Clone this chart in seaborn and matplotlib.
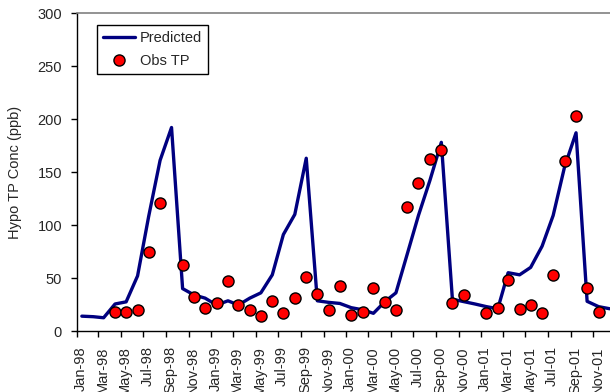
import matplotlib
matplotlib.use("Agg")
import matplotlib.pyplot as plt
import matplotlib.dates as mdates
import matplotlib.transforms as mtransforms
import seaborn as sns
import pandas as pd
from matplotlib.lines import Line2D

# Monthly model predictions, Jan-98 .. Dec-01 (ppb)
pred_start = "1998-01-01"
pred_tp = [
    14, 13.5, 12.5, 25.5, 27.5, 52, 108, 161, 192, 40, 34, 31,
    24.5, 28.5, 24.5, 31, 36, 53, 91, 110, 163, 28.5, 27, 26,
    22, 20, 16.7, 27.7, 36, 73, 109, 142, 178, 30, 27.7, 25.5,
    23, 21, 55, 53, 60, 80, 109, 155, 187, 28, 23, 21,
]

# Observed hypolimnetic TP samples
obs_months = [
    "1998-04", "1998-05", "1998-06", "1998-07", "1998-08", "1998-10", "1998-11", "1998-12",
    "1999-01", "1999-02", "1999-03", "1999-04", "1999-05", "1999-06", "1999-07", "1999-08",
    "1999-09", "1999-10", "1999-11", "1999-12",
    "2000-01", "2000-02", "2000-03", "2000-04", "2000-05", "2000-06", "2000-07", "2000-08",
    "2000-09", "2000-10", "2000-11",
    "2001-01", "2001-02", "2001-03", "2001-04", "2001-05", "2001-06", "2001-07", "2001-08",
    "2001-09", "2001-10", "2001-11",
]
obs_tp = [
    18, 18, 19.5, 74.5, 121, 62.5, 32.5, 21.5,
    26, 47, 25, 20, 14.5, 28.5, 17, 31,
    51, 35, 20, 42,
    15, 17.5, 41, 27.5, 19.5, 117, 140, 162,
    171, 26, 33.5,
    17, 21.5, 48, 20.5, 24.5, 17, 53, 160,
    203, 41, 17.5,
]

y_ticks = [0, 50, 100, 150, 200, 250, 300]
y_label = "Hypo TP Conc (ppb)"

# samples are plotted at mid-month
pred_df = pd.DataFrame({
    "date": pd.date_range(pred_start, periods=len(pred_tp), freq="MS") + pd.Timedelta(days=14),
    "tp": pred_tp,
})
obs_df = pd.DataFrame({
    "date": pd.to_datetime(obs_months) + pd.Timedelta(days=14),
    "tp": obs_tp,
})

sns.set_style("white")
plt.rcParams["font.family"] = ["Liberation Sans", "DejaVu Sans"]
fs = 10.5

fig = plt.figure(figsize=(6.10, 3.92), dpi=100)
ax = fig.add_axes([0.1257, 0.1556, 0.8743, 0.8112])

navy = "#000080"
sns.lineplot(data=pred_df, x="date", y="tp", ax=ax, color=navy, linewidth=2.4,
             legend=False, zorder=2)
sns.scatterplot(data=obs_df, x="date", y="tp", ax=ax, color="#ff0000",
                edgecolor="black", linewidth=1.0, s=64, legend=False, zorder=3)

ax.set_xlim(pd.Timestamp("1998-01-01"), pd.Timestamp("2001-12-16"))
ax.set_ylim(0, 300)
ax.set_yticks(y_ticks)
ax.xaxis.set_major_locator(mdates.MonthLocator(bymonth=[1, 3, 5, 7, 9, 11]))
ax.xaxis.set_major_formatter(mdates.DateFormatter("%b-%y"))

ax.set_xlabel("")
ax.set_ylabel(y_label, fontsize=fs, labelpad=11)
ax.tick_params(axis="both", which="major", direction="out", length=4, width=1,
               color="black", labelsize=fs, bottom=True, left=True)
ax.tick_params(axis="y", pad=6.5)
ax.tick_params(axis="x", pad=7)
shift = mtransforms.ScaledTranslation(4 / 100, 0, fig.dpi_scale_trans)
for lab in ax.get_xticklabels():
    lab.set_rotation(90)
    lab.set_transform(lab.get_transform() + shift)

for side in ("left", "bottom"):
    ax.spines[side].set_color("black")
    ax.spines[side].set_linewidth(1.0)
ax.spines["top"].set_color("#808080")
ax.spines["top"].set_linewidth(1.2)
ax.spines["right"].set_visible(False)
ax.grid(False)

handles = [
    Line2D([], [], color=navy, linewidth=2.4, label="Predicted"),
    Line2D([], [], linestyle="none", marker="o", markersize=8, markerfacecolor="#ff0000",
           markeredgecolor="black", markeredgewidth=1.0, label="Obs TP"),
]
leg = ax.legend(handles=handles, loc="upper left", bbox_to_anchor=(0.0386, 0.962),
                borderaxespad=0, fontsize=fs, frameon=True, fancybox=False,
                edgecolor="black", framealpha=1, handlelength=2.2, handletextpad=0.3,
                borderpad=0.4, labelspacing=0.6)
leg.get_frame().set_linewidth(1.0)

fig.savefig("out.png", dpi=100)
